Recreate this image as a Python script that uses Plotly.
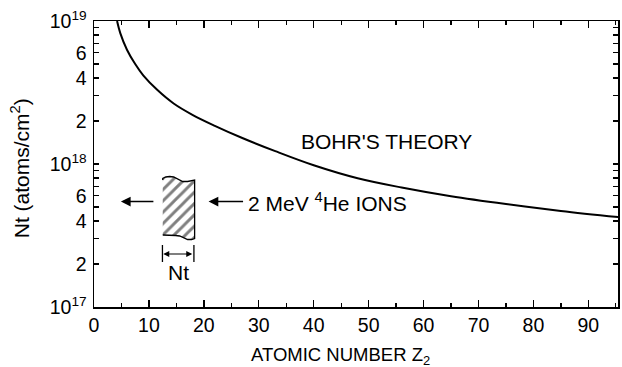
import plotly.graph_objects as go

# ---- data ----
atomic_number = [4.2, 4.8, 6.0, 7.5, 9.0, 11.5, 14.5, 18.0, 22.0, 27.0, 33.0, 40.0,
                 48.0, 56.0, 65.0, 75.0, 85.0, 95.5]
nt_values = [1.0e19, 8.2e18, 6.3e18, 5.0e18, 4.15e18, 3.3e18, 2.65e18, 2.2e18,
             1.85e18, 1.52e18, 1.23e18, 9.8e17, 7.95e17, 6.85e17, 5.95e17,
             5.25e17, 4.7e17, 4.25e17]

y_tick_vals = [1e17, 2e17, 4e17, 6e17, 1e18, 2e18, 4e18, 6e18, 1e19]
y_tick_text = ["10<sup>17</sup>", "2", "4", "6", "10<sup>18</sup>", "2", "4", "6", "10<sup>19</sup>"]
y_minor_vals = [3e17, 5e17, 7e17, 8e17, 9e17, 3e18, 5e18, 7e18, 8e18, 9e18]
x_tick_vals = [0, 10, 20, 30, 40, 50, 60, 70, 80, 90]

W, H = 622, 367
X0, X1, Y0, Y1 = 94, 620, 21, 307          # plot box in page pixels
ML, MT, MR, MB = X0, Y0, W - X1, H - Y1
FONT = "Liberation Sans, Arial, Helvetica, sans-serif"
FS_TICK = 19.5
FS_ANN = 21


def px(x):
    return (x - X0) / (X1 - X0)


def py(y):
    return (Y1 - y) / (Y1 - Y0)


fig = go.Figure()

fig.add_trace(go.Scatter(
    x=atomic_number, y=nt_values, mode="lines",
    line=dict(color="black", width=2, shape="spline", smoothing=1.0),
    hoverinfo="skip", showlegend=False,
))

# hatched target foil (decoration on an overlay axis in plot-box fractions)
foil_x = [163, 163, 166, 170, 174, 179, 183, 188, 192, 195, 195, 192, 188, 184, 180, 176, 171, 167, 163]
foil_y = [180, 178.5, 177, 176.5, 177, 179.5, 181.5, 181.5, 180.5, 180, 238.5, 239.5, 239.5, 238, 236, 235.5, 235.5, 235, 235]
fig.add_trace(go.Scatter(
    x=[px(v) for v in foil_x], y=[py(v) for v in foil_y],
    xaxis="x2", yaxis="y2", mode="lines", fill="toself",
    fillcolor="rgba(0,0,0,0)",
    fillpattern=dict(shape="/", size=8, solidity=0.36, fgcolor="black", bgcolor="white"),
    line=dict(color="black", width=1.3),
    hoverinfo="skip", showlegend=False,
))

axis_common = dict(
    showline=True, linecolor="black", linewidth=1.5, mirror="ticks",
    ticks="inside", tickcolor="black", tickwidth=1.3,
    showgrid=False, zeroline=False,
    tickfont=dict(family=FONT, size=FS_TICK, color="black"),
)

fig.update_layout(
    width=W, height=H,
    margin=dict(l=ML, r=MR, t=MT, b=MB, pad=0),
    paper_bgcolor="white", plot_bgcolor="white",
    font=dict(family=FONT, size=FS_TICK, color="black"),
    xaxis=dict(range=[0, 95.4], tickmode="array", tickvals=x_tick_vals, ticklen=7,
               minor=dict(dtick=5, tick0=0, ticks="inside", ticklen=4, tickcolor="black", tickwidth=1.3),
               **axis_common),
    yaxis=dict(type="log", range=[17, 19], tickmode="array", tickvals=y_tick_vals,
               ticktext=y_tick_text, ticklen=5, ticklabelstandoff=2,
               minor=dict(tickvals=y_minor_vals, ticks="inside", ticklen=5, tickcolor="black", tickwidth=1.3),
               **axis_common),
    xaxis2=dict(overlaying="x", range=[0, 1], visible=False, fixedrange=True),
    yaxis2=dict(overlaying="y", range=[0, 1], visible=False, fixedrange=True),
)

ann = []
# axis titles
ann.append(dict(text="ATOMIC NUMBER Z<sub>2</sub>", x=px(341), y=py(356), xref="paper", yref="paper",
                showarrow=False, xanchor="center", yanchor="middle", font=dict(size=18.5)))
ann.append(dict(text="Nt (atoms/cm<sup>2</sup>)", x=px(20), y=py(168), xref="paper", yref="paper",
                showarrow=False, textangle=-90, xanchor="center", yanchor="middle", font=dict(size=21)))
# labels
ann.append(dict(text="BOHR'S THEORY", x=px(388), y=py(141), xref="paper", yref="paper",
                showarrow=False, xanchor="center", yanchor="middle", font=dict(size=FS_ANN)))
ann.append(dict(text="2 MeV <sup>4</sup>He IONS", x=px(247), y=py(202), xref="paper", yref="paper",
                showarrow=False, xanchor="left", yanchor="middle", font=dict(size=FS_ANN)))
ann.append(dict(text="Nt", x=px(179), y=py(272), xref="paper", yref="paper",
                showarrow=False, xanchor="center", yanchor="middle", font=dict(size=FS_ANN)))
# arrows
ann.append(dict(text="", x=px(121), y=py(201.5), xref="paper", yref="paper",
                ax=155 - 121, ay=0, axref="pixel", ayref="pixel", showarrow=True,
                arrowhead=2, arrowsize=1.3, arrowwidth=1.5, arrowcolor="black"))
ann.append(dict(text="", x=px(209), y=py(201.5), xref="paper", yref="paper",
                ax=245 - 209, ay=0, axref="pixel", ayref="pixel", showarrow=True,
                arrowhead=2, arrowsize=1.3, arrowwidth=1.5, arrowcolor="black"))
ann.append(dict(text="", x=px(163.5), y=py(254), xref="paper", yref="paper",
                ax=194 - 163.5, ay=0, axref="pixel", ayref="pixel", showarrow=True,
                arrowhead=2, arrowsize=1.0, arrowwidth=1.2, arrowcolor="black",
                arrowside="end+start", standoff=0, startstandoff=0))
fig.update_layout(annotations=ann)

# bars of the thickness marker
for xv in (162.7, 194.3):
    fig.add_shape(type="line", xref="paper", yref="paper",
                  x0=px(xv), x1=px(xv), y0=py(245), y1=py(262),
                  line=dict(color="black", width=1.3))

fig.write_html(
    "out.html",
    config={"displayModeBar": False, "staticPlot": True},
    post_script="document.body.style.margin='0';document.body.style.overflow='hidden';",
)
